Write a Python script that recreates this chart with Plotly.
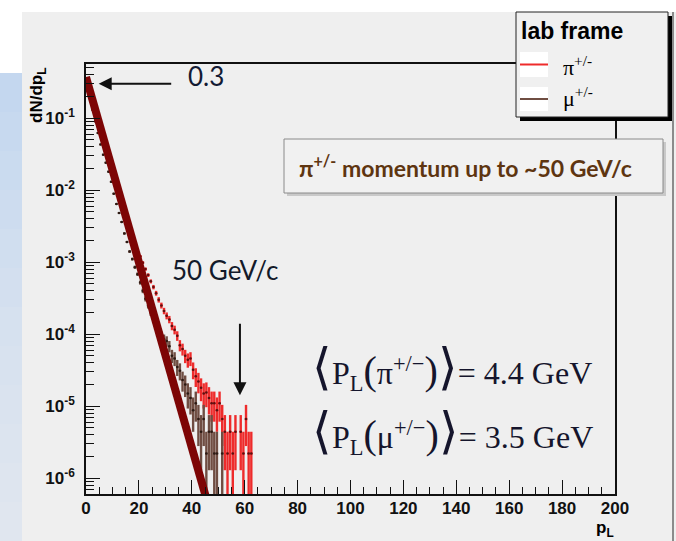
import plotly.graph_objects as go

# ---------------- data ----------------
# longitudinal momentum bins (GeV/c), 1 GeV wide, bin centres
pion_x = [i + 0.5 for i in range(63)]
pion_dndp = [
    0.30, 0.22, 0.165, 0.122, 0.090, 0.067, 0.050, 0.037, 0.028, 0.021,
    0.0158, 0.0120, 0.0091, 0.0070, 0.0054, 0.0042, 0.0032, 0.0024, 0.0019, 0.0015,
    0.0012, 0.00098, 0.00080, 0.00066, 0.00054, 0.00045, 0.00037, 0.00030, 0.00025, 0.00021,
    0.00018, 0.00016, 0.00013, 0.000115, 0.000095, 0.000070, 0.000062, 0.000050, 0.000044, 0.000046,
    3.2e-5, 2.6e-5, 2.2e-5, 1.8e-5, 1.5e-5, 1.55e-5, 1.3e-5, 1.1e-5, 1.1e-5, 8.8e-6,
    1.1e-5, 6.6e-6, 4.4e-6, 2.2e-6, 4.4e-6, 2.2e-6, 4.4e-6, 0.0, 4.4e-6, 2.2e-6,
    6.6e-6, 2.2e-6, 2.2e-6,
]

muon_x = [i + 0.5 for i in range(52)]
muon_dndp = [
    0.28, 0.19, 0.13, 0.090, 0.062, 0.043, 0.031, 0.024, 0.018, 0.013,
    0.0089, 0.0064, 0.0048, 0.0036, 0.0025, 0.0019, 0.0014, 0.0011, 0.00085, 0.00068,
    0.00052, 0.00040, 0.00031, 0.00025, 0.00020, 0.00016, 0.00013, 0.00011, 0.000095, 0.000085,
    0.000080, 0.000068, 0.000050, 0.000046, 0.000035, 0.000031, 0.000023, 0.000020, 0.000015, 0.000013,
    8.8e-6, 1.1e-5, 6.6e-6, 4.4e-6, 6.6e-6, 2.2e-6, 4.4e-6, 4.4e-6, 2.2e-6, 2.2e-6,
    0.0, 2.2e-6,
]

# weight of a single entry (normalisation 1/N)
entry_weight = 2.2e-6

# exponential guide line: value at p_L = 0 and end point
guide_x = [0.0, 46.0]
guide_y = [0.37, 4.5e-7]

x_ticks = [0, 20, 40, 60, 80, 100, 120, 140, 160, 180, 200]
y_ticks = [1e-6, 1e-5, 1e-4, 1e-3, 1e-2, 1e-1]
y_ticktext = ["10<sup>-6</sup>", "10<sup>-5</sup>", "10<sup>-4</sup>",
              "10<sup>-3</sup>", "10<sup>-2</sup>", "10<sup>-1</sup>"]

# ---------------- geometry helpers (page pixels -> paper) ----------------
W, H = 676, 541
L, R, T, B = 86, 615, 64, 494


def px(x):
    return (x - L) / (R - L)


def py(y):
    return (B - y) / (B - T)


def hist_trace(xs, vs, color, dot, name):
    xx, yy, ee = [], [], []
    for x, v in zip(xs, vs):
        if v > 0:
            xx.append(x)
            yy.append(v)
            ee.append((v / entry_weight) ** 0.5 * entry_weight)
    return go.Scatter(
        x=xx, y=yy, mode="markers", name=name, showlegend=False,
        marker=dict(size=2.5, color=dot),
        error_y=dict(type="data", array=ee, color=color, thickness=2.4, width=0),
        error_x=dict(type="constant", value=0.5, color=color, thickness=2, width=0),
    )


RED = "#ee2b2b"
BROWN = "#6f4d42"

fig = go.Figure()
fig.add_trace(hist_trace(pion_x, pion_dndp, RED, "#5a1010", "pi"))
fig.add_trace(hist_trace(muon_x, muon_dndp, BROWN, "#2a1a14", "mu"))
fig.add_trace(go.Scatter(x=guide_x, y=guide_y, mode="lines", showlegend=False,
                         line=dict(color="#7d0505", width=8)))

shapes = []
# page background panels
shapes.append(dict(type="rect", xref="paper", yref="paper", layer="below",
                   x0=px(22), x1=px(676), y0=py(12), y1=py(541),
                   fillcolor="#efefef", line=dict(width=0)))
blues = ["#c4d7ef", "#c7d9ef", "#cadbef", "#cddcef", "#d0deef", "#d3dfef",
         "#d6e1ef", "#d8e2ef", "#dae3ef", "#dce4ef", "#dee5ef", "#e0e6ef"]
band = (541 - 73) / len(blues)
for i, c in enumerate(blues):
    shapes.append(dict(type="rect", xref="paper", yref="paper", layer="below",
                       x0=px(0), x1=px(22), y0=py(73 + i * band), y1=py(73 + (i + 1) * band + 1),
                       fillcolor=c, line=dict(width=0)))
shapes.append(dict(type="line", xref="paper", yref="paper", layer="below",
                   x0=px(673), x1=px(673), y0=py(12), y1=py(541),
                   line=dict(color="#6a6a6a", width=1.5)))

# note box
shapes.append(dict(type="rect", xref="paper", yref="paper",
                   x0=px(287), x1=px(666), y0=py(142), y1=py(196),
                   fillcolor="#c9c9c9", line=dict(width=0)))
shapes.append(dict(type="rect", xref="paper", yref="paper",
                   x0=px(284), x1=px(663), y0=py(139), y1=py(193),
                   fillcolor="#f1f1f1", line=dict(color="#8a8a8a", width=1)))

# legend box
shapes.append(dict(type="rect", xref="paper", yref="paper",
                   x0=px(520), x1=px(672), y0=py(16), y1=py(121),
                   fillcolor="#000000", line=dict(width=0)))
shapes.append(dict(type="rect", xref="paper", yref="paper",
                   x0=px(516), x1=px(668), y0=py(12), y1=py(117),
                   fillcolor="#f0f0f0", line=dict(color="#222222", width=1)))
for y0, y1, c in [(52, 77, RED), (87, 111, BROWN)]:
    shapes.append(dict(type="rect", xref="paper", yref="paper",
                       x0=px(520), x1=px(548), y0=py(y0), y1=py(y1),
                       fillcolor="#ffffff", line=dict(width=0)))
    ym = (y0 + y1) / 2
    shapes.append(dict(type="line", xref="paper", yref="paper",
                       x0=px(520), x1=px(548), y0=py(ym), y1=py(ym),
                       line=dict(color=c, width=2)))

ann = []
# legend texts
ann.append(dict(xref="paper", yref="paper", x=px(519), y=py(31), xanchor="left", yanchor="middle",
                text="<b>lab frame</b>", showarrow=False,
                font=dict(family="Liberation Sans", size=23, color="#000000")))
ann.append(dict(xref="paper", yref="paper", x=px(561), y=py(66), xanchor="left", yanchor="middle",
                text="π<sup>+/-</sup>", showarrow=False,
                font=dict(family="Liberation Serif", size=22, color="#000000")))
ann.append(dict(xref="paper", yref="paper", x=px(561), y=py(97), xanchor="left", yanchor="middle",
                text="μ<sup>+/-</sup>", showarrow=False,
                font=dict(family="Liberation Serif", size=22, color="#000000")))

# note text
ann.append(dict(xref="paper", yref="paper", x=px(297), y=py(166), xanchor="left", yanchor="middle",
                text="<b>π<sup>+/-</sup> momentum up to ~50 GeV/c</b>", showarrow=False,
                font=dict(family="Lato", size=23, color="#5e3510")))

# 0.3 marker
ann.append(dict(x=4.8, y=-0.523, xref="x", yref="y", text="", showarrow=True,
                ax=74, ay=0, axref="pixel", ayref="pixel",
                arrowhead=2, arrowsize=1.3, arrowwidth=2, arrowcolor="#111111"))
ann.append(dict(xref="paper", yref="paper", x=px(206), y=py(76), xanchor="center", yanchor="middle",
                text="0.3", showarrow=False,
                font=dict(family="Lato", size=26, color="#131a33")))

# 50 GeV/c marker
ann.append(dict(xref="paper", yref="paper", x=px(225), y=py(270), xanchor="center", yanchor="middle",
                text="50 GeV/c", showarrow=False,
                font=dict(family="Lato", size=26, color="#131a2a")))
ann.append(dict(x=58.2, y=-4.85, xref="x", yref="y", text="", showarrow=True,
                ax=0, ay=-73, axref="pixel", ayref="pixel",
                arrowhead=2, arrowsize=1.3, arrowwidth=2, arrowcolor="#111111"))

# mean momenta
big = '<span style="font-size:50px">'
mid = '<span style="font-size:40px">'
for yc, particle, val in [(367, "π", "4.4"), (431, "μ", "3.5")]:
    txt = (f"{big}⟨</span>P<sub>L</sub>{mid}(</span>{particle}<sup>+/−</sup>"
           f"{mid})</span>{big}⟩</span>= {val} GeV")
    ann.append(dict(xref="paper", yref="paper", x=px(310), y=py(yc), xanchor="left", yanchor="middle",
                    text=txt, showarrow=False,
                    font=dict(family="Liberation Serif", size=32, color="#15152c")))

# axis titles
ann.append(dict(xref="paper", yref="paper", x=px(38), y=py(96), xanchor="center", yanchor="middle",
                text="<b>dN/dp<sub>L</sub></b>", textangle=-90, showarrow=False,
                font=dict(family="Liberation Sans", size=17, color="#000000")))
ann.append(dict(xref="paper", yref="paper", x=px(605), y=py(529), xanchor="center", yanchor="middle",
                text="<b>p<sub>L</sub></b>", showarrow=False,
                font=dict(family="Liberation Sans", size=17, color="#000000")))

minor_y = [m * 10.0 ** e for e in range(-7, 0) for m in range(2, 10)]

fig.update_layout(
    width=W, height=H, autosize=False,
    margin=dict(l=L, r=W - R, t=T, b=H - B, pad=0),
    paper_bgcolor="#ffffff", plot_bgcolor="rgba(0,0,0,0)",
    shapes=shapes, annotations=ann, showlegend=False,
)
fig.update_xaxes(
    range=[0, 200], showgrid=False, zeroline=False,
    showline=True, linecolor="#111111", linewidth=1.5, mirror=True,
    tickmode="array", tickvals=x_ticks, ticks="inside", ticklen=14, tickwidth=1.3, tickcolor="#111111",
    tickfont=dict(family="Liberation Sans", size=17, color="#111111", weight="bold"),
    ticklabelstandoff=-2,
    minor=dict(dtick=5, tick0=0, ticks="inside", ticklen=7, tickwidth=1.2, tickcolor="#111111"),
)
fig.update_yaxes(
    type="log", range=[-6.22, -0.25], showgrid=False, zeroline=False,
    showline=True, linecolor="#111111", linewidth=1.5, mirror=True,
    tickmode="array", tickvals=y_ticks, ticktext=y_ticktext,
    ticks="inside", ticklen=14, tickwidth=1.3, tickcolor="#111111",
    tickfont=dict(family="Liberation Sans", size=17, color="#111111", weight="bold"),
    ticklabelstandoff=6,
    minor=dict(tickmode="array", tickvals=minor_y, ticks="inside", ticklen=8,
               tickwidth=1.2, tickcolor="#111111"),
)

fig.write_html("out.html")
